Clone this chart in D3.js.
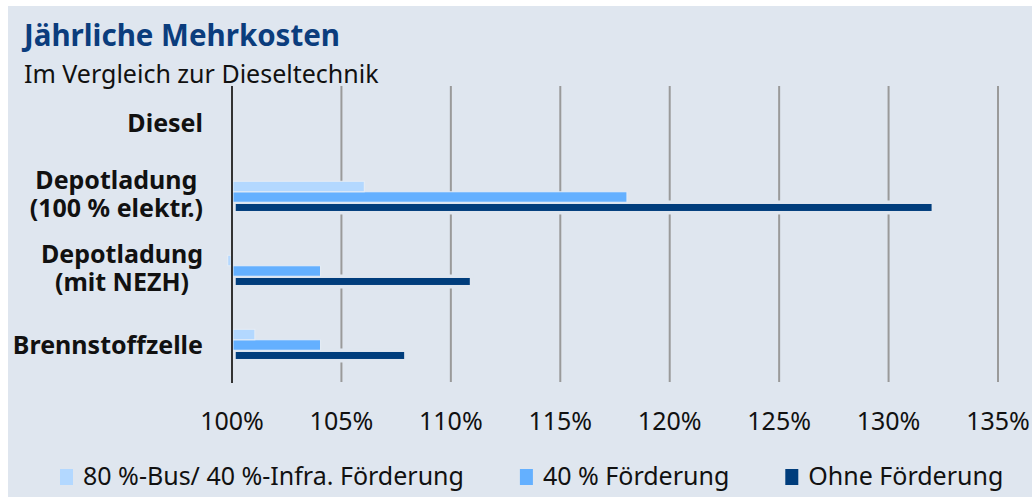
<!DOCTYPE html>
<html>
<head>
<meta charset="utf-8">
<script src="https://cdn.jsdelivr.net/npm/d3@7"></script>
<style>
  body { margin: 0; background: #fff; }
  svg { display: block; font-family: "Noto Sans", sans-serif; }
</style>
</head>
<body>
<div id="chart"></div>
<script>
const categories = [
  "Diesel",
  "Depotladung\n(100 % elektr.)",
  "Depotladung\n(mit NEZH)",
  "Brennstoffzelle",
];
const seriesNames = [
  "80 %-Bus/ 40 %-Infra. Förderung",
  "40 % Förderung",
  "Ohne Förderung",
];
const busInfraValues = [100, 106, 99.85, 101];
const foerderungValues = [100, 118, 104, 104];
const ohneValues = [100, 132, 110.9, 107.9];
const tickValues = [100, 105, 110, 115, 120, 125, 130, 135];
const colors = ["#b3d8ff", "#64b0ff", "#003d7c"];

const width = 1032;
const height = 497;
const margin = { top: 86, right: 34, bottom: 115, left: 232 };
const bg = "#dfe6ef";

const svg = d3
  .select("#chart")
  .append("svg")
  .attr("width", width)
  .attr("height", height);

svg
  .append("rect")
  .attr("x", 8)
  .attr("y", 6)
  .attr("width", width - 8)
  .attr("height", height - 6)
  .attr("fill", bg);

svg
  .append("text")
  .attr("x", 24)
  .attr("y", 46)
  .attr("fill", "#0b3d7d")
  .style("font-size", "29.5px")
  .style("font-weight", "bold")
  .text("Jährliche Mehrkosten");

svg
  .append("text")
  .attr("x", 24)
  .attr("y", 83)
  .attr("fill", "#111")
  .style("font-size", "25px")
  .text("Im Vergleich zur Dieseltechnik");

const xScale = d3
  .scaleLinear()
  .domain([100, 135])
  .range([margin.left, 998]);

const yScale = d3
  .scaleBand()
  .domain(categories)
  .range([margin.top, height - margin.bottom])
  .paddingInner(0.575)
  .paddingOuter(0.2875);

const subScale = d3
  .scaleBand()
  .domain([0, 1, 2])
  .range([0, yScale.bandwidth()]);

// gridlines
svg
  .append("g")
  .selectAll("line")
  .data(tickValues.slice(1))
  .join("line")
  .attr("x1", (d) => xScale(d))
  .attr("x2", (d) => xScale(d))
  .attr("y1", margin.top)
  .attr("y2", height - margin.bottom)
  .attr("stroke", "#9a9a9a")
  .attr("stroke-width", 2);

const seriesValues = [busInfraValues, foerderungValues, ohneValues];

// bars, dark first so the lighter ones sit on its halo
const barGroup = svg.append("g");
[2, 1, 0].forEach((s) => {
  barGroup
    .append("g")
    .selectAll("rect")
    .data(categories.map((c, i) => ({ c, v: seriesValues[s][i] })))
    .join("rect")
    .filter((d) => d.v !== 100)
    .attr("x", (d) => (d.v > 100 ? xScale(100) + 1 + (s === 2 ? 1 : 0) : xScale(d.v) - 1))
    .attr("y", (d) => yScale(d.c) + subScale(s))
    .attr("width", (d) => Math.abs(xScale(d.v) - xScale(100)) - (s === 2 ? 1 : 0))
    .attr("height", subScale.bandwidth())
    .attr("fill", colors[s])
    .attr("stroke", s === 2 ? bg : "#e6edf5")
    .attr("stroke-width", s === 2 ? 3.5 : 1);
});

// value axis line at 100 %
svg
  .append("line")
  .attr("x1", xScale(100))
  .attr("x2", xScale(100))
  .attr("y1", margin.top)
  .attr("y2", height - margin.bottom + 1)
  .attr("stroke", "#333")
  .attr("stroke-width", 2);

// tick labels
svg
  .append("g")
  .selectAll("text")
  .data(tickValues)
  .join("text")
  .attr("x", (d) => xScale(d))
  .attr("y", 430)
  .attr("text-anchor", "middle")
  .attr("fill", "#111")
  .style("font-size", "25px")
  .text((d) => d + "%");

// category labels, multi-line ones centred in a right-aligned block
const labelRight = 203;
categories.forEach((c) => {
  const lines = c.split("\n");
  const mid = yScale(c) + yScale.bandwidth() / 2;
  const label = svg
    .append("text")
    .attr("fill", "#111")
    .attr("text-anchor", "middle")
    .style("font-size", "25px")
    .style("font-weight", "bold");
  const spans = lines.map((line, i) =>
    label
      .append("tspan")
      .attr("y", lines.length === 1 ? mid + 9 : mid - 8 + i * 28)
      .text(line)
  );
  const maxW = d3.max(spans, (t) => t.node().getComputedTextLength());
  spans.forEach((t) => t.attr("x", labelRight - maxW / 2));
});

// legend
let lx = 60;
seriesNames.forEach((name, i) => {
  svg
    .append("rect")
    .attr("x", lx)
    .attr("y", 469)
    .attr("width", 13)
    .attr("height", 16)
    .attr("fill", colors[i]);
  const t = svg
    .append("text")
    .attr("x", lx + 23)
    .attr("y", 485)
    .attr("fill", "#111")
    .style("font-size", "25px")
    .text(name);
  lx += 23 + t.node().getComputedTextLength() + 56;
});
</script>
</body>
</html>
